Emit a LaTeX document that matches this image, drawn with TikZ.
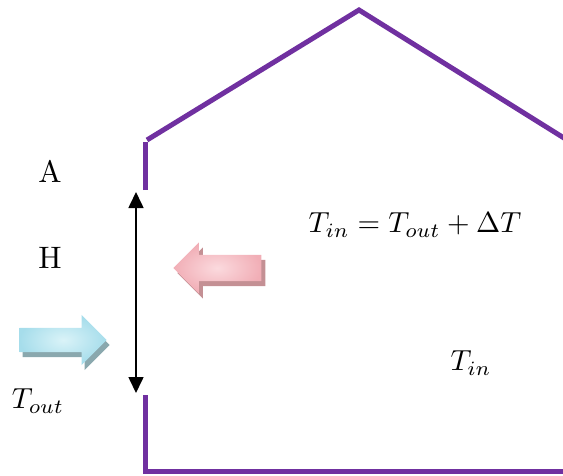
\documentclass[tikz,border=0pt]{standalone}
\usepackage{amsmath}
\usepackage{xcolor}
\usepackage{tikz}
\usetikzlibrary{arrows.meta, positioning, shapes.arrows, shadows}
\definecolor{wallpurple}{RGB}{112, 48, 160}
\definecolor{coldlight}{RGB}{218, 243, 248}
\definecolor{colddark}{RGB}{166, 221, 235}
\definecolor{coldshadow}{RGB}{138, 168, 174}
\definecolor{warmlight}{RGB}{251, 218, 222}
\definecolor{warmdark}{RGB}{241, 174, 182}
\definecolor{warmshadow}{RGB}{196, 144, 148}

\begin{document}
\begin{tikzpicture}[x=1pt, y=-1pt, >={Triangle[width=15pt, length=16pt]},
    wall/.style={line width=5pt, wallpurple},
    flow/.style={single arrow, inner xsep=0pt, single arrow head indent=0pt, anchor=tip},
    lbl/.style={scale=3.1},
    mlbl/.style={scale=2.9}]
    \useasboundingbox (0,0) rectangle (563,475);

    % house outline, open where the wall is measured
    \draw[wall] (145,190) -- (145,142);
    \draw[wall] (147,140) -- (359,10) -- (572,143);
    \draw[wall] (145,395) -- (145,471) -- (563,471);

    % wall height
    \coordinate (htop) at (136,192);
    \coordinate (hbot) at (136,393);
    \draw[<->, line width=1.6pt] (htop) -- (hbot);

    % outside air coming in, heat going out
    \node[flow, minimum height=87pt, inner ysep=12pt, single arrow head extend=13pt,
          inner color=coldlight, outer color=colddark,
          drop shadow={shadow xshift=3pt, shadow yshift=-5pt, fill=coldshadow, opacity=1}]
          (coldflow) at (107,340) {};
    \node[flow, shape border rotate=180, minimum height=88pt, inner ysep=13pt,
          single arrow head extend=12.5pt,
          inner color=warmlight, outer color=warmdark,
          drop shadow={shadow xshift=4pt, shadow yshift=-5pt, fill=warmshadow, opacity=1}]
          (warmflow) at (173,268) {};

    % labels
    \node[lbl] (alabel) at (50,171) {A};
    \node[lbl] (hlabel) at (50,258) {H};
    \node[mlbl] (tout) at (38,401) {$T_{out}$};
    \node[mlbl] (tin) at (471,363) {$T_{in}$};
    \node[mlbl] (balance) at (415,225) {$T_{in} = T_{out} + \Delta T$};
\end{tikzpicture}
\end{document}
